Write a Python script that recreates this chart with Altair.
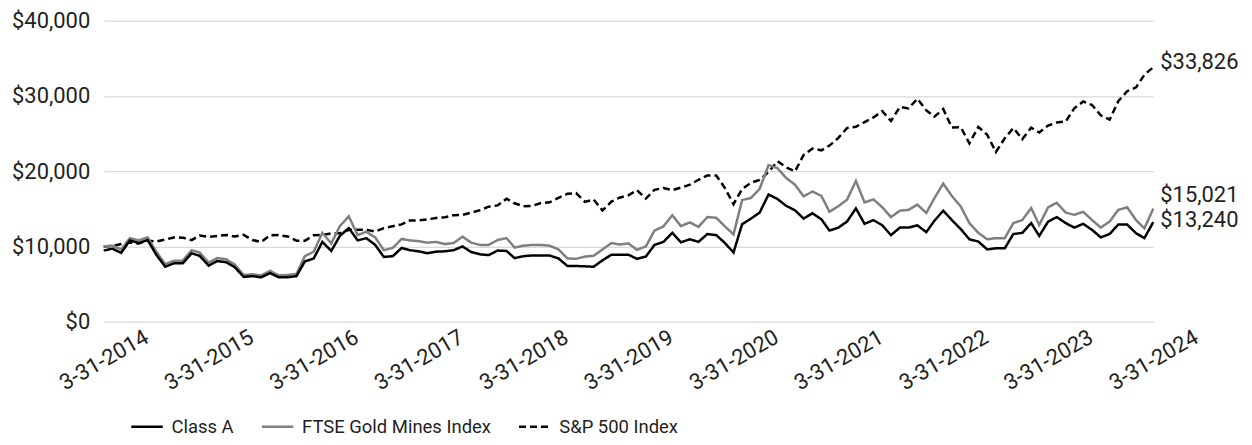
import altair as alt
import pandas as pd

# Month-end dates, 3-31-2014 .. 3-31-2024
dates = [d.strftime("%Y-%m-%d") for d in pd.date_range("2014-03-31", "2024-03-31", freq="ME")]

series_names = ["Class A", "FTSE Gold Mines Index", "S&P 500 Index"]

class_a = [
    9450, 9700, 9150, 10800, 10450, 10850, 8900, 7300, 7750, 7750,
    9100, 8750, 7450, 8050, 7900, 7250, 5950, 6050, 5900, 6450,
    5900, 5900, 6050, 8000, 8400, 10600, 9400, 11400, 12450, 10800,
    11100, 10200, 8600, 8700, 9800, 9500, 9350, 9100, 9300, 9350,
    9500, 10000, 9250, 8950, 8850, 9450, 9400, 8450, 8700, 8800,
    8800, 8800, 8400, 7400, 7400, 7350, 7300, 8150, 8900, 8900,
    8900, 8350, 8650, 10200, 10600, 11800, 10550, 10950, 10600, 11650,
    11500, 10500, 9200, 12950, 13700, 14500, 16900, 16300, 15400, 14800,
    13700, 14400, 13600, 12100, 12500, 13300, 15050, 13000, 13500, 12800,
    11500, 12500, 12500, 12800, 11900, 13400, 14750, 13500, 12300, 10950,
    10650, 9600, 9750, 9750, 11650, 11800, 13100, 11400, 13300, 13900,
    13100, 12500, 13000, 12200, 11200, 11650, 12900, 12900, 11750, 11100,
    13240,
]

ftse_gold = [
    10000, 10100, 9600, 11100, 10800, 11200, 9300, 7650, 8100, 8100,
    9500, 9200, 7850, 8450, 8300, 7600, 6200, 6300, 6150, 6750,
    6150, 6200, 6350, 8700, 9300, 11800, 10400, 12700, 14000, 11500,
    11950, 11200, 9500, 9800, 11000, 10800, 10700, 10500, 10600, 10300,
    10450, 11300, 10500, 10200, 10200, 10850, 11100, 9850, 10100, 10200,
    10200, 10100, 9600, 8400, 8350, 8650, 8750, 9600, 10450, 10250,
    10400, 9550, 10000, 12100, 12650, 14150, 12700, 13200, 12600, 13900,
    13800, 12700, 11600, 16150, 16450, 17650, 20800, 20400, 19100, 18200,
    16650, 17300, 16700, 14600, 15350, 16200, 18700, 15850, 16250, 15200,
    13900, 14750, 14850, 15550, 14450, 16400, 18350, 16700, 15300, 13100,
    11800, 10950, 11100, 11100, 13100, 13500, 15100, 12850, 15200, 15800,
    14500, 14200, 14600, 13500, 12500, 13300, 14850, 15200, 13500, 12400,
    15021,
]

sp500 = [
    10000, 10074, 10311, 10524, 10379, 10794, 10643, 10903, 11196, 11168,
    10833, 11456, 11275, 11383, 11530, 11306, 11544, 10848, 10580, 11473,
    11507, 11325, 10763, 10749, 11478, 11523, 11730, 11761, 12195, 12212,
    12214, 11992, 12436, 12682, 12923, 13436, 13452, 13591, 13783, 13868,
    14154, 14198, 14490, 14828, 15283, 15453, 16338, 15735, 15335, 15393,
    15764, 15862, 16452, 16988, 17085, 15916, 16241, 14774, 15957, 16469,
    16789, 17469, 16360, 17513, 17765, 17484, 17811, 18198, 18859, 19428,
    19420, 17822, 15621, 17624, 18463, 18830, 19892, 21322, 20512, 19966,
    22152, 23003, 22771, 23399, 24424, 25728, 25908, 26512, 27143, 27968,
    26668, 28537, 28340, 29610, 28079, 27240, 28250, 25787, 25833, 23702,
    25887, 24831, 22544, 24370, 25732, 24250, 25773, 25144, 26067, 26474,
    26588, 28345, 29255, 28790, 27417, 26841, 29292, 30622, 31136, 32799,
    33826,
]

tick_dates = ["2014-03-31", "2015-03-31", "2016-03-31", "2017-03-31", "2018-03-31",
              "2019-03-31", "2020-03-31", "2021-03-31", "2022-03-31", "2023-03-31",
              "2024-03-31"]
y_ticks = [0, 10000, 20000, 30000, 40000]

FONT = "Roboto"
TXT = "#231f20"

rows = []
for name, vals in zip(series_names, [class_a, ftse_gold, sp500]):
    for d, v in zip(dates, vals):
        rows.append({"date": d, "series": name, "value": v})
df = pd.DataFrame(rows)

end_df = pd.DataFrame({
    "date": [dates[-1]] * 3,
    "series": series_names,
    "value": [class_a[-1], ftse_gold[-1], sp500[-1]],
})

tick_vals = [alt.DateTime(year=int(t[:4]), month=int(t[5:7]), date=int(t[8:]), utc=True) for t in tick_dates]

color_scale = alt.Scale(domain=series_names, range=["#000000", "#7f7f7f", "#000000"])
dash_scale = alt.Scale(domain=series_names, range=[[1, 0], [1, 0], [7, 4]])

x_enc = alt.X(
    "date:T",
    scale=alt.Scale(type="utc", nice=False),
    axis=alt.Axis(
        values=tick_vals,
        labelExpr="utcFormat(datum.value, '%-m-%d-%Y')",
        labelAngle=-30,
        labelAlign="center",
        labelBaseline="middle",
        labelPadding=38,
        labelFont=FONT,
        labelFontSize=22,
        labelColor=TXT,
        grid=False,
        domain=False,
        ticks=False,
        title=None,
        labelOverlap=False,
        labelFlush=False,
    ),
)
y_enc = alt.Y(
    "value:Q",
    scale=alt.Scale(domain=[0, 40000], nice=False),
    axis=alt.Axis(
        values=y_ticks,
        format="$,.0f",
        labelFont=FONT,
        labelFontSize=22,
        labelColor=TXT,
        labelPadding=14,
        grid=True,
        gridColor="#d9d9d9",
        gridWidth=1.2,
        domain=False,
        ticks=False,
        title=None,
    ),
)

legend = alt.Legend(
    title=None,
    orient="none",
    legendX=26,
    legendY=390,
    direction="horizontal",
    symbolType="stroke",
    symbolSize=1000,
    symbolStrokeWidth=2.5,
    labelFont=FONT,
    labelFontSize=18.5,
    labelColor=TXT,
    labelOffset=7,
    labelLimit=0,
    columnPadding=22,
    symbolOffset=0,
)

base = alt.Chart(df)

def line_layer(name):
    return base.transform_filter(alt.datum.series == name).mark_line(strokeWidth=2.5).encode(
        x=x_enc,
        y=y_enc,
        color=alt.Color("series:N", scale=color_scale, legend=legend),
        strokeDash=alt.StrokeDash("series:N", scale=dash_scale, legend=legend),
    )

layers = [line_layer("S&P 500 Index"), line_layer("FTSE Gold Mines Index"), line_layer("Class A")]

label_dy = {"S&P 500 Index": -5, "FTSE Gold Mines Index": -14, "Class A": -2}
for name in series_names:
    layers.append(
        alt.Chart(end_df)
        .transform_filter(alt.datum.series == name)
        .mark_text(align="left", baseline="middle", dx=7, dy=label_dy[name],
                   font=FONT, fontSize=22, color=TXT)
        .encode(x=alt.X("date:T"), y=alt.Y("value:Q"), text=alt.Text("value:Q", format="$,.0f"))
    )

chart = alt.layer(*layers).properties(
    width=1053,
    height=302,
    autosize=alt.AutoSizeParams(type="none"),
    padding={"left": 96, "top": 12, "right": 91, "bottom": 116},
).configure_view(stroke=None)

chart.save("out.html", embed_options={"renderer": "svg", "actions": False})
